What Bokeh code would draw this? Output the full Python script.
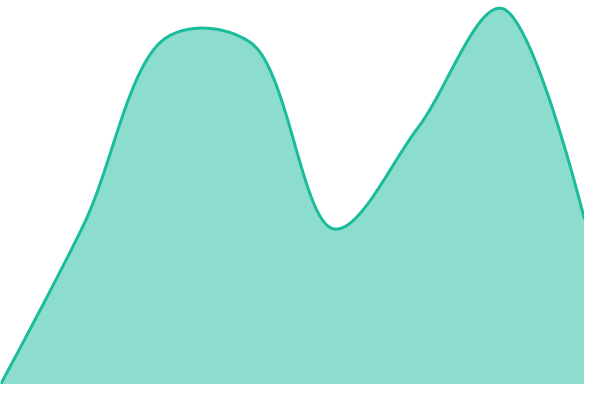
import numpy as np
from bokeh.plotting import figure
from bokeh.models import Range1d
from bokeh.embed import file_html
from bokeh.resources import INLINE

# data: one value per evenly spaced category
categories = [0, 1, 2, 3, 4, 5, 6, 7]
values = [0, 167, 362, 356, 162, 267, 392, 172]

LINE = "#1abc9c"


def catmull_rom_path(xs, ys, xscale, alpha=0.5, steps=40):
    """Render helper: centripetal Catmull-Rom path through the data points."""
    P = [(float(x) * xscale, float(y)) for x, y in zip(xs, ys)]
    n = len(P)
    ext = [P[0]] + P + [P[-1]]
    out_x, out_y = [], []
    t = np.linspace(0, 1, steps)

    def dist(a, b):
        return np.hypot(a[0] - b[0], a[1] - b[1])

    for i in range(n - 1):
        p0, p1, p2, p3 = ext[i], ext[i + 1], ext[i + 2], ext[i + 3]
        l01 = dist(p0, p1) ** alpha if i > 0 else 0.0
        l12 = dist(p1, p2) ** alpha
        l23 = dist(p2, p3) ** alpha if i < n - 2 else 0.0
        c1 = list(p1)
        c2 = list(p2)
        if l01 > 1e-12:
            a = 2 * l01 ** 2 + 3 * l01 * l12 + l12 ** 2
            m = 3 * l01 * (l01 + l12)
            c1 = [(p1[j] * a - p0[j] * l12 ** 2 + p2[j] * l01 ** 2) / m for j in range(2)]
        if l23 > 1e-12:
            b = 2 * l23 ** 2 + 3 * l23 * l12 + l12 ** 2
            m = 3 * l23 * (l23 + l12)
            c2 = [(p2[j] * b + p1[j] * l23 ** 2 - p3[j] * l12 ** 2) / m for j in range(2)]
        bx = (1 - t) ** 3 * p1[0] + 3 * (1 - t) ** 2 * t * c1[0] + 3 * (1 - t) * t ** 2 * c2[0] + t ** 3 * p2[0]
        by = (1 - t) ** 3 * p1[1] + 3 * (1 - t) ** 2 * t * c1[1] + 3 * (1 - t) * t ** 2 * c2[1] + t ** 3 * p2[1]
        if i > 0:
            bx, by = bx[1:], by[1:]
        out_x.extend(bx / xscale)
        out_y.extend(by)
    return np.array(out_x), np.array(out_y)


cx, cy = catmull_rom_path(categories, values, xscale=600.0 / 7)

p = figure(width=584, height=384, output_backend="svg", toolbar_location=None,
           x_range=Range1d(categories[0], categories[-1]), y_range=Range1d(0, 400),
           min_border=0, outline_line_color=None)
p.axis.visible = False
p.grid.visible = False
p.background_fill_color = "white"
p.border_fill_color = "white"

p.varea(x=cx, y1=np.zeros_like(cy), y2=cy, fill_color=LINE, fill_alpha=0.5)
p.line(x=cx, y=cy, line_color=LINE, line_width=3)

open("out.html", "w").write(file_html(p, INLINE))
